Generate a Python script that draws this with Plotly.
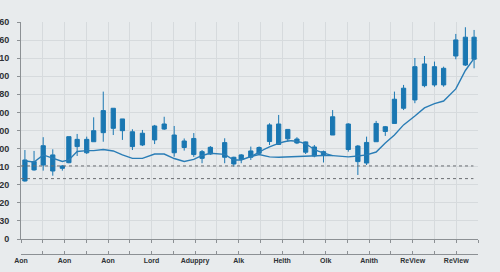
import plotly.graph_objects as go

# ---- data ----
x_labels = ["Aon", "Aon", "Aon", "Lord", "Aduppry", "Alk", "Helth", "Olk", "Anith", "ReView", "ReView"]
y_tick_text = ["0", "30", "20", "20", "10", "00", "00", "00", "80", "00", "10", "60", "60"]

t = [0.9, 3.0, 5.1, 7.3, 9.5, 11.0, 12.9, 15.1, 16.7, 18.9, 21.2, 23.3, 25.6, 27.9, 30.7, 32.9,
     35.2, 37.5, 39.7, 41.6, 43.5, 46.8, 48.9, 50.6, 52.8, 54.7, 57.1, 59.2, 61.3, 63.4, 65.4, 67.4,
     69.5, 71.6, 75.2, 77.4, 79.4, 81.6, 83.7, 85.8, 87.9, 90.5, 92.7, 95.0, 97.1, 99.9, 102.1, 104.1]
open_ = [43.7, 38.2, 40.9, 46.5, 39.1, 42.2, 55.1, 47.7, 53.8, 58.8, 72.3, 66.4, 59.3, 52.0, 54.8, 60.8,
         57.5, 50.6, 55.6, 48.3, 47.0, 53.3, 45.2, 44.1, 45.2, 47.4, 53.9, 63.6, 60.6, 55.3, 53.7, 50.9,
         46.5, 57.5, 63.6, 51.4, 42.0, 53.8, 59.5, 63.9, 72.3, 76.9, 96.8, 85.2, 94.4, 101.2, 111.6, 99.4]
high = [49.2, 48.7, 56.3, 49.6, 40.9, 56.6, 58.1, 56.6, 67.3, 81.5, 72.3, 66.4, 60.7, 60.3, 63.1, 67.6,
        62.5, 55.6, 58.6, 49.2, 51.4, 55.7, 45.5, 47.0, 51.1, 51.2, 64.0, 68.6, 60.7, 56.3, 53.9, 52.0,
        48.9, 71.3, 64.0, 52.0, 56.6, 65.3, 62.5, 81.5, 85.2, 100.1, 101.2, 98.1, 95.3, 113.4, 117.1, 115.6]
low = [31.7, 37.8, 37.8, 35.0, 37.8, 41.9, 45.9, 47.0, 53.8, 53.8, 57.5, 54.8, 49.2, 51.4, 52.5, 60.3,
       45.5, 48.9, 45.4, 41.9, 46.5, 41.9, 40.0, 41.9, 43.7, 46.5, 52.0, 52.0, 53.8, 52.5, 47.0, 45.2,
       42.3, 57.5, 48.3, 35.4, 40.9, 53.8, 57.0, 63.9, 71.3, 75.1, 83.9, 84.2, 84.2, 99.4, 95.7, 94.4]
close = [32.1, 42.8, 51.6, 37.6, 40.4, 56.6, 51.1, 55.1, 59.9, 71.0, 61.2, 59.9, 51.1, 58.5, 62.5, 63.6,
         47.7, 54.2, 46.7, 44.6, 50.7, 45.2, 41.5, 46.5, 48.7, 50.6, 63.1, 52.3, 55.4, 53.1, 48.0, 45.9,
         48.3, 67.6, 49.5, 42.8, 53.4, 63.9, 62.1, 77.3, 83.4, 95.3, 84.8, 95.3, 85.2, 110.1, 96.2, 111.6]
ma = [43.1, 42.6, 46.5, 44.8, 42.9, 43.7, 48.4, 48.9, 48.9, 49.5, 48.7, 46.5, 44.6, 44.6, 47.0, 47.0,
      44.5, 42.9, 44.0, 46.2, 47.4, 46.8, 43.7, 43.7, 45.6, 46.7, 45.4, 45.2, 45.4, 45.5, 45.9, 46.2,
      46.2, 46.1, 45.4, 45.9, 46.5, 48.1, 53.1, 57.5, 63.1, 68.0, 72.5, 74.9, 76.3, 83.0, 93.2, 99.9]
arc_t = [52.8, 54.7, 57.1, 59.2, 61.3, 63.4, 65.4, 67.4, 69.5, 71.6]
arc = [45.6, 48.1, 50.9, 52.9, 54.2, 54.0, 52.5, 49.6, 47.6, 46.1]
ref_levels = [40.4, 33.4]

BLUE = "#1a77b2"
LINE = "#2a7db6"
BG = "#e8ebed"
GRID = "#d6dadd"
AXIS = "#8c9094"
TXT = "#2e3235"
FONT = "Liberation Sans, Arial, sans-serif"

fig = go.Figure()
fig.add_trace(go.Candlestick(
    x=t, open=open_, high=high, low=low, close=close,
    increasing=dict(line=dict(color=BLUE, width=1), fillcolor=BLUE),
    decreasing=dict(line=dict(color=BLUE, width=1), fillcolor=BLUE),
    whiskerwidth=0, showlegend=False,
))
fig.add_trace(go.Scatter(x=t, y=ma, mode="lines", line=dict(color=LINE, width=1.4),
                         showlegend=False))
fig.add_trace(go.Scatter(x=arc_t, y=arc, mode="lines", line=dict(color=LINE, width=1.4, shape="spline"),
                         showlegend=False))
fig.add_trace(go.Scatter(x=[None], y=[None], xaxis="x2", showlegend=False))

for lv in ref_levels:
    fig.add_shape(type="line", xref="x domain", yref="y", x0=0, x1=0.99, y0=lv, y1=lv,
                  line=dict(color="#6a6e72", width=1, dash="dot"))

xt = [i * 5 for i in range(22)]
xt_text = [x_labels[i // 2] if i % 2 == 0 else "" for i in range(22)]

fig.update_layout(
    width=500, height=272,
    margin=dict(l=21, r=22, t=22, b=10, autoexpand=False),
    paper_bgcolor=BG, plot_bgcolor=BG,
    boxgap=0.35, boxgroupgap=0,
    font=dict(family=FONT, color=TXT),
    xaxis=dict(range=[0, 105], tickvals=xt, showticklabels=False, showgrid=True, gridcolor=GRID,
               gridwidth=1, zeroline=False, showline=True, linecolor=AXIS, linewidth=1,
               ticks="outside", ticklen=3, tickcolor=AXIS, rangeslider=dict(visible=False),
               fixedrange=True, automargin=False),
    xaxis2=dict(range=[0, 105], overlaying="x", anchor="free", position=0.0333, side="bottom",
                tickvals=xt, ticktext=xt_text, showgrid=False, zeroline=False, showline=True,
                linecolor=AXIS, linewidth=1, ticks="inside", ticklen=3, tickcolor=AXIS,
                tickfont=dict(size=7, color=TXT, family=FONT, weight="bold"),
                tickangle=0, automargin=False),
    yaxis=dict(domain=[0.0958, 1], range=[0, 120], tickvals=[i * 10 for i in range(13)],
               ticktext=y_tick_text, showgrid=True, gridcolor=GRID, gridwidth=1, zeroline=False,
               showline=True, linecolor=AXIS, linewidth=1, ticks="outside", ticklen=3,
               tickcolor=AXIS, tickfont=dict(size=9, color=TXT, family=FONT, weight="bold"),
               ticklabelstandoff=6, automargin=False),
)

fig.write_html("out.html")
